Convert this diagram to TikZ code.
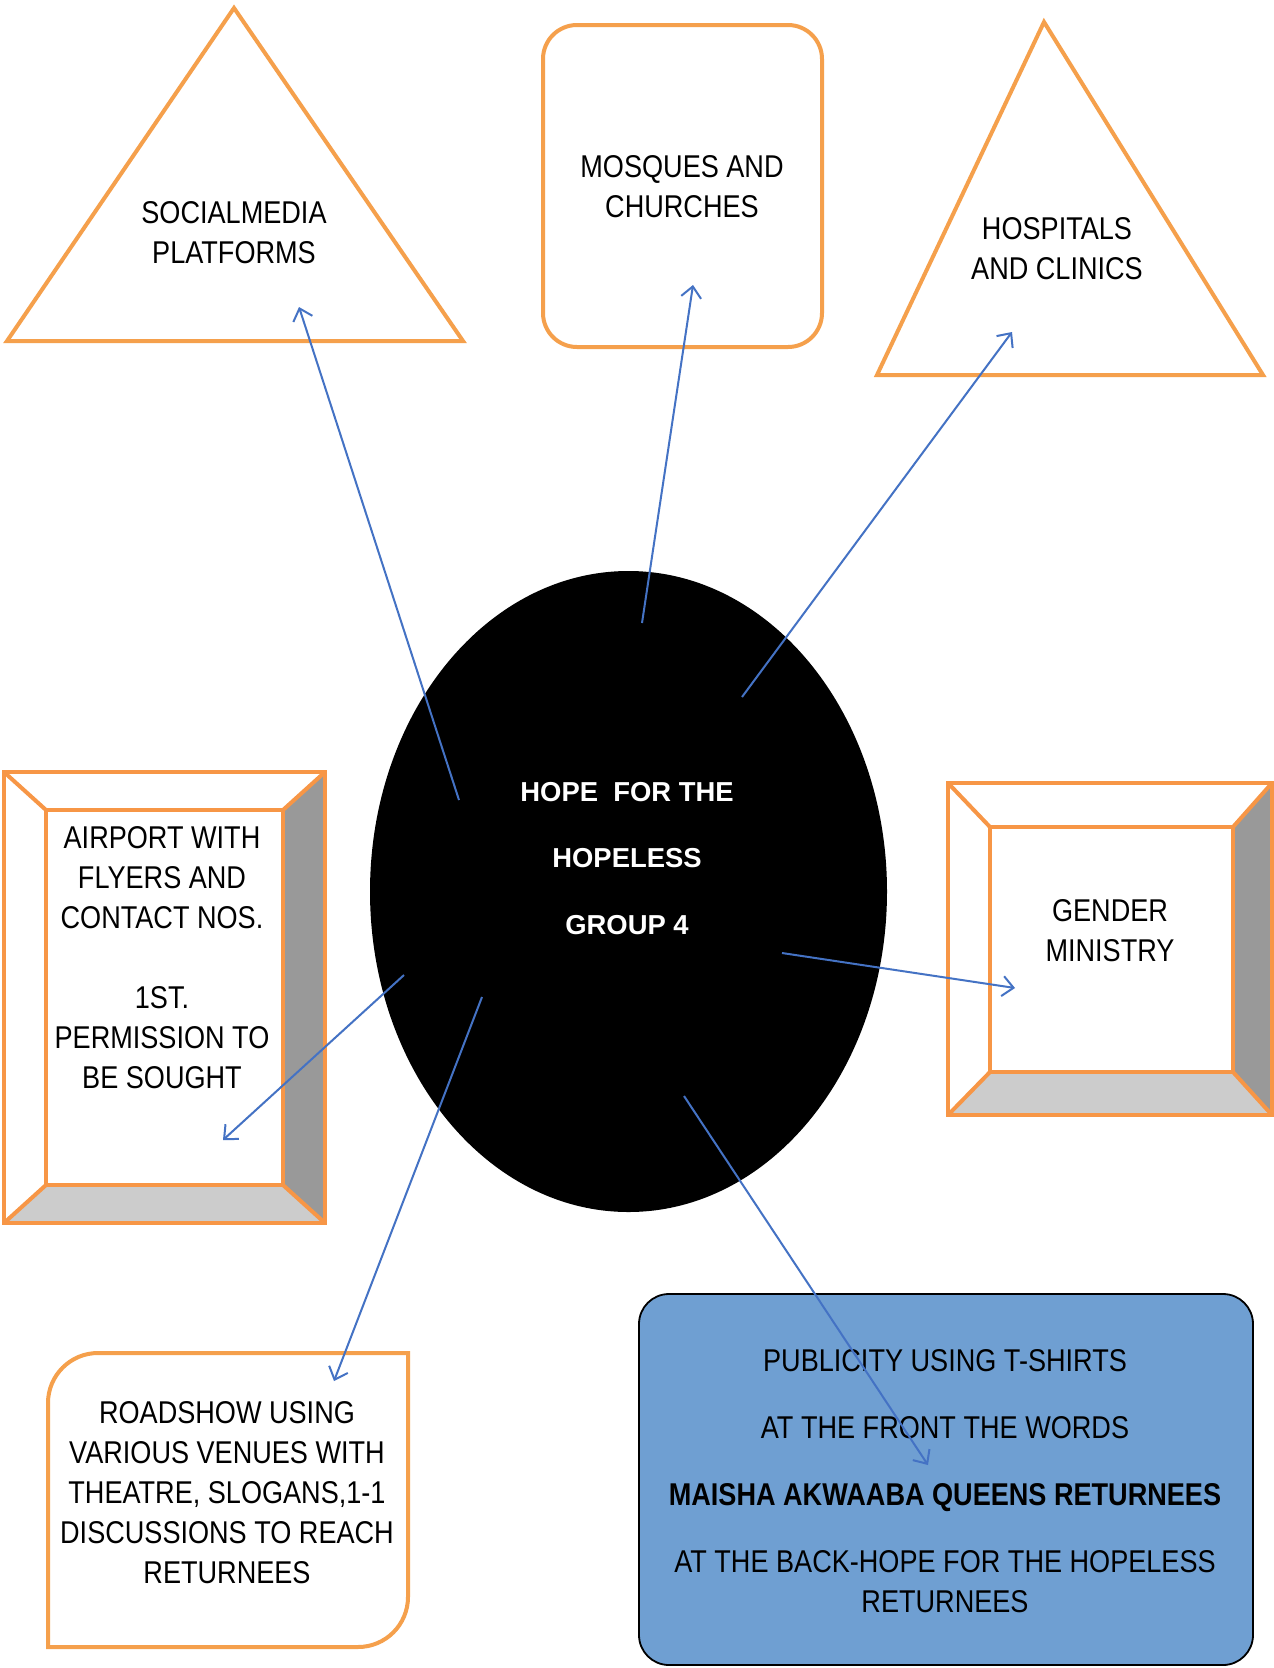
\documentclass[tikz,border=0pt]{standalone}
\usepackage{fontspec}
\setmainfont{Liberation Sans}[FakeStretch=0.86]
\newfontfamily\widefont{Liberation Sans}
\usetikzlibrary{arrows.meta,shapes.geometric}
\definecolor{orng}{HTML}{F5A04C}
\definecolor{bevorng}{HTML}{F79646}
\definecolor{arrowblue}{HTML}{4472C4}
\definecolor{boxblue}{HTML}{6F9FD2}
\definecolor{darkside}{HTML}{999999}
\definecolor{lightside}{HTML}{CCCCCC}
\begin{document}
\begin{tikzpicture}[x=1pt,y=-1pt,
  every node/.style={inner sep=0pt, outer sep=0pt},
  lbl/.style={font=\fontsize{31.5}{40}\selectfont, align=center},
  ctr/.style={font=\widefont\bfseries\fontsize{27.4}{66.5}\selectfont, text=white, align=center},
  link/.style={draw=arrowblue, line width=2pt, -{Straight Barb[length=11pt,width=20pt]}},
  outl/.style={draw=orng, line width=4pt, line join=miter},
  bev/.style={draw=bevorng, line width=4pt, line join=miter}]
\useasboundingbox (0,0) rectangle (1274,1668);
\fill[white] (0,0) rectangle (1274,1668);

% ---- triangles
\draw[outl] (234,8) -- (7,341) -- (463,341) -- cycle;
\node[lbl] (social) at (234,232.5) {SOCIALMEDIA\\PLATFORMS};

\draw[outl] (1044,22) -- (877,375) -- (1263,375) -- cycle;
\node[lbl] (hosp) at (1057,248.5) {HOSPITALS\\AND CLINICS};

% ---- mosques
\draw[outl, rounded corners=34pt] (543,25) rectangle (822,347);
\node[lbl] (mosq) at (682,186.5) {MOSQUES AND\\CHURCHES};

% ---- airport bevel box
\fill[white] (4,772) rectangle (325,1223);
\fill[darkside] (325,772) -- (325,1223) -- (283,1185) -- (283,810) -- cycle;
\fill[lightside] (4,1223) -- (325,1223) -- (283,1185) -- (46,1185) -- cycle;
\draw[bev] (4,772) rectangle (325,1223);
\draw[bev] (46,810) rectangle (283,1185);
\draw[bev] (4,772) -- (46,810) (325,772) -- (283,810) (4,1223) -- (46,1185) (325,1223) -- (283,1185);
\node[lbl] (airport) at (162,957.5) {AIRPORT WITH\\FLYERS AND\\CONTACT NOS.\\[40pt]1ST.\\PERMISSION TO\\BE SOUGHT};

% ---- gender bevel box
\fill[white] (948,783) rectangle (1272,1115);
\fill[darkside] (1272,783) -- (1272,1115) -- (1233,1072) -- (1233,827) -- cycle;
\fill[lightside] (948,1115) -- (1272,1115) -- (1233,1072) -- (990,1072) -- cycle;
\draw[bev] (948,783) rectangle (1272,1115);
\draw[bev] (990,827) rectangle (1233,1072);
\draw[bev] (948,783) -- (990,827) (1272,783) -- (1233,827) (948,1115) -- (990,1072) (1272,1115) -- (1233,1072);
\node[lbl] (gender) at (1110,930.5) {GENDER\\MINISTRY};

% ---- roadshow
\draw[outl] (48,1647) -- (48,1403) .. controls (48,1375.4) and (70.4,1353) .. (98,1353)
  -- (408,1353) -- (408,1597) .. controls (408,1624.6) and (385.6,1647) .. (358,1647) -- cycle;
\node[lbl] (road) at (227,1492.5) {ROADSHOW USING\\VARIOUS VENUES WITH\\THEATRE, SLOGANS,1-1\\DISCUSSIONS TO REACH\\RETURNEES};

% ---- publicity
\node[draw=black, line width=1.8pt, fill=boxblue, rounded corners=30pt,
  minimum width=614pt, minimum height=371pt] (pubbox) at (946,1479.5) {};
\node[lbl] (pub) at (945,1481) {PUBLICITY USING T-SHIRTS\\[27pt]AT THE FRONT THE WORDS\\[27pt]\textbf{MAISHA AKWAABA QUEENS RETURNEES}\\[27pt]AT THE BACK-HOPE FOR THE HOPELESS\\RETURNEES};

% ---- hub
\node[ellipse, fill=black, minimum width=517pt, minimum height=641pt] (hub) at (628.5,891.5) {};
\node[ctr] (hubtext) at (627,858.5) {HOPE\ \ FOR THE\\HOPELESS\\GROUP 4};

% ---- arrow end points
\coordinate (s1) at (459,800);  \coordinate (e1) at (299,307);
\coordinate (s2) at (642,623);  \coordinate (e2) at (693,285);
\coordinate (s3) at (742,697);  \coordinate (e3) at (1012,332);
\coordinate (s4) at (782,953);  \coordinate (e4) at (1015,988);
\coordinate (s5) at (404,975);  \coordinate (e5) at (223,1140);
\coordinate (s6) at (482,997);  \coordinate (e6) at (334,1381);
\coordinate (s7) at (684,1096); \coordinate (e7) at (928,1465);

\draw[link] (s1) -- (e1);
\draw[link] (s2) -- (e2);
\draw[link] (s3) -- (e3);
\draw[link] (s4) -- (e4);
\draw[link] (s5) -- (e5);
\draw[link] (s6) -- (e6);
\draw[link] (s7) -- (e7);
\end{tikzpicture}
\end{document}
